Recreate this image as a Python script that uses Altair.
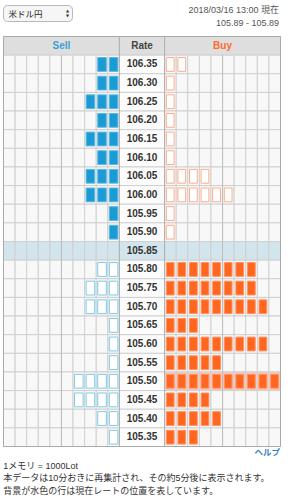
import altair as alt
import pandas as pd

# ---------------- data ----------------
rates = ["106.35", "106.30", "106.25", "106.20", "106.15", "106.10", "106.05",
         "106.00", "105.95", "105.90", "105.85", "105.80", "105.75", "105.70",
         "105.65", "105.60", "105.55", "105.50", "105.45", "105.40", "105.35"]
sell_lots = [2, 2, 3, 2, 3, 2, 3, 3, 1, 1, 0, 2, 3, 3, 1, 1, 1, 4, 4, 2, 1]
buy_lots = [2, 1, 1, 1, 1, 1, 4, 6, 1, 1, 0, 8, 8, 9, 3, 9, 5, 10, 4, 5, 3]
current_rate = "105.85"
headers = ["Sell", "Rate", "Buy"]
max_cols = 10

title_pair = "米ドル円"
stamp = "2018/03/16 13:00 現在"
quote = "105.89 - 105.89"
help_label = "ヘルプ"
notes = ["1メモリ = 1000Lot",
         "本データは10分おきに再集計され、その約5分後に表示されます。",
         "背景が水色の行は現在レートの位置を表しています。"]

# ---------------- layout in table units ----------------
RATE_W = 3.9
SELL0, RATE0, BUY0 = 0.0, float(max_cols), max_cols + RATE_W
TOTAL = BUY0 + max_cols
NROWS = len(rates) + 1
cur_idx = rates.index(current_rate)

xs = alt.Scale(domain=[0, TOTAL], range=[3.5, 280.5])
ys = alt.Scale(domain=[0, NROWS], range=[36.5, 446.5])

# background cells
cells = []
hdr_spans = [(SELL0, RATE0), (RATE0, BUY0), (BUY0, TOTAL)]
for (a, b) in hdr_spans:
    cells.append(dict(x=a, x2=b, y=0, y2=1, fill="#dedede"))
for i, r in enumerate(rates):
    row = i + 1
    base = "#f8f8f8"
    sell_bg = buy_bg = base
    rate_bg = "#fcfcfc"
    if r == current_rate:
        sell_bg = buy_bg = rate_bg = "#d3e5ec"
    if buy_lots[i] >= max_cols:
        buy_bg = "#f9c6be"
    for j in range(max_cols):
        cells.append(dict(x=SELL0 + j, x2=SELL0 + j + 1, y=row, y2=row + 1, fill=sell_bg))
        cells.append(dict(x=BUY0 + j, x2=BUY0 + j + 1, y=row, y2=row + 1, fill=buy_bg))
    cells.append(dict(x=RATE0, x2=BUY0, y=row, y2=row + 1, fill=rate_bg))
cells_df = pd.DataFrame(cells)

# lot boxes
ix, iy = 0.13, 0.13
bars = []
for i, r in enumerate(rates):
    row = i + 1
    above = i < cur_idx
    for k in range(sell_lots[i]):
        x0 = RATE0 - (k + 1)
        if above:
            f, s = "#1b9bd6", "#5cb8e2"
        else:
            f, s = "#ffffff", "#7ccbe8"
        bars.append(dict(x=x0 + ix, x2=x0 + 1 - ix, y=row + iy, y2=row + 1 - iy, fill=f, stroke=s))
    for k in range(buy_lots[i]):
        x0 = BUY0 + k
        if above:
            f, s = "#ffffff", "#ffab8a"
        else:
            f, s = "#ff6620", "#ff9260"
        bars.append(dict(x=x0 + 0.15, x2=x0 + 1 - 0.18, y=row + iy, y2=row + 1 - iy, fill=f, stroke=s))
bars_df = pd.DataFrame(bars)

# grid rules
rules_df = pd.DataFrame([
    dict(x=SELL0 + max_cols / 2, y=1, y2=NROWS, c="#bdbdbd"),
    dict(x=BUY0 + max_cols / 2, y=1, y2=NROWS, c="#bdbdbd"),
    dict(x=RATE0, y=0, y2=NROWS, c="#b0b0b0"),
    dict(x=BUY0, y=0, y2=NROWS, c="#b0b0b0"),
])
border_df = pd.DataFrame([dict(x=0, x2=TOTAL, y=0, y2=NROWS)])

rate_df = pd.DataFrame(dict(label=rates, y=[i + 1.5 for i in range(len(rates))],
                            x=[RATE0 + RATE_W / 2] * len(rates)))
hdr_df = pd.DataFrame(dict(label=headers, y=[0.5] * 3,
                           x=[(a + b) / 2 for a, b in hdr_spans],
                           c=["#3a9fd5", "#444444", "#ff6a2c"]))

LAT = "Liberation Sans, Noto Sans CJK JP"


def X(f="x:Q"):
    return alt.X(f, scale=xs, axis=None)


def Y(f="y:Q"):
    return alt.Y(f, scale=ys, axis=None)


cell_layer = alt.Chart(cells_df).mark_rect(stroke="#d0d0d0", strokeWidth=1).encode(
    x=X(), x2="x2:Q", y=Y(), y2="y2:Q",
    fill=alt.Fill("fill:N", scale=None))

rule_layer = alt.Chart(rules_df).mark_rule(strokeWidth=1).encode(
    x=X(), y=Y(), y2="y2:Q",
    color=alt.Color("c:N", scale=None))

border_layer = alt.Chart(border_df).mark_rect(fill=None, stroke="#aaaaaa", strokeWidth=1).encode(
    x=X(), x2="x2:Q", y=Y(), y2="y2:Q")

bar_layer = alt.Chart(bars_df).mark_rect(strokeWidth=1).encode(
    x=X(), x2="x2:Q", y=Y(), y2="y2:Q",
    fill=alt.Fill("fill:N", scale=None),
    stroke=alt.Stroke("stroke:N", scale=None))

rate_layer = alt.Chart(rate_df).mark_text(font=LAT, fontSize=10, fontWeight="bold", color="#333333",
                                          baseline="middle").encode(
    x=X(), y=Y(), text="label:N")

hdr_layer = alt.Chart(hdr_df).mark_text(font=LAT, fontSize=10, fontWeight="bold", baseline="middle").encode(
    x=X(), y=Y(), text="label:N",
    color=alt.Color("c:N", scale=None))

one = pd.DataFrame([{"k": 0}])

select_box = alt.Chart(one).mark_rect(fill="#f6f6f6", stroke="#b8b8b8", cornerRadius=4).encode(
    x=alt.value(3.5), x2=alt.value(72.5), y=alt.value(5.5), y2=alt.value(21.5))
select_text = alt.Chart(one).mark_text(font=LAT, fontSize=8.5, color="#222222", align="left",
                                       baseline="middle").encode(
    x=alt.value(8.5), y=alt.value(13.5), text=alt.value(title_pair))
arrow_up = alt.Chart(one).mark_text(font="DejaVu Sans", fontSize=4, color="#333333", baseline="middle").encode(
    x=alt.value(67.5), y=alt.value(11.0), text=alt.value("▲"))
arrow_dn = alt.Chart(one).mark_text(font="DejaVu Sans", fontSize=4, color="#333333", baseline="middle").encode(
    x=alt.value(67.5), y=alt.value(16.0), text=alt.value("▼"))

stamp_t = alt.Chart(one).mark_text(font=LAT, fontSize=9, color="#555555", align="right",
                                   baseline="middle").encode(
    x=alt.value(279), y=alt.value(10), text=alt.value(stamp))
quote_t = alt.Chart(one).mark_text(font=LAT, fontSize=9, color="#555555", align="right",
                                   baseline="middle").encode(
    x=alt.value(279), y=alt.value(22.7), text=alt.value(quote))
help_t = alt.Chart(one).mark_text(font=LAT, fontSize=8.5, color="#2b7fc4", fontWeight="bold", align="right",
                                  baseline="middle").encode(
    x=alt.value(280), y=alt.value(452), text=alt.value(help_label))

note_ys = [466, 478.3, 490.5]
note_layers = [
    alt.Chart(one).mark_text(font=LAT, fontSize=9, color="#333333", align="left",
                             baseline="middle").encode(
        x=alt.value(3.3), y=alt.value(yy), text=alt.value(t))
    for t, yy in zip(notes, note_ys)
]

chart = alt.layer(
    cell_layer, rule_layer, border_layer, bar_layer, rate_layer, hdr_layer,
    select_box, select_text, arrow_up, arrow_dn, stamp_t, quote_t, help_t, *note_layers
).properties(
    width=290, height=500, autosize=alt.AutoSizeParams(type="none"), padding=0,
    background="#ffffff"
).configure_view(stroke=None)

chart.save("out.html", embed_options={"renderer": "svg", "actions": False})
